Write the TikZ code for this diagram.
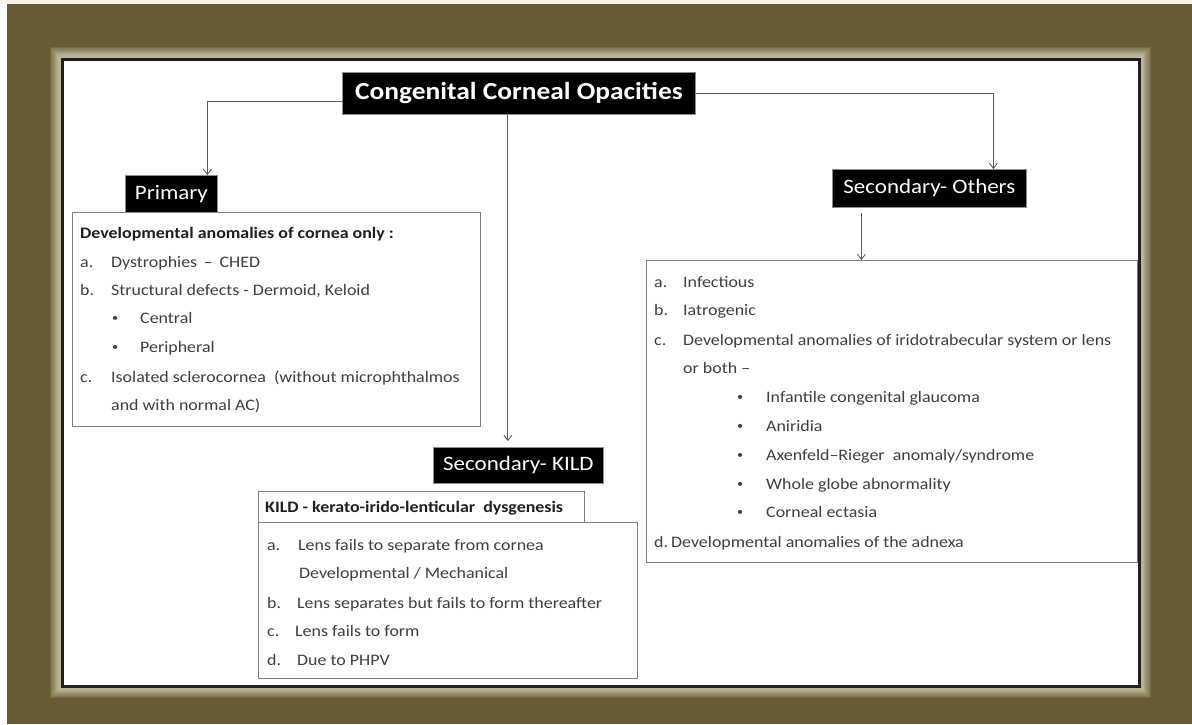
\documentclass[tikz,border=0pt]{standalone}
\usepackage{fontspec}
\setmainfont{Carlito}[FakeStretch=1.12]
\usetikzlibrary{arrows.meta}
\definecolor{frameolive}{RGB}{101,92,52}
\definecolor{glowcream}{RGB}{245,240,215}
\definecolor{stripcream}{RGB}{246,243,228}
\definecolor{bodygray}{RGB}{62,62,62}
\definecolor{headgray}{RGB}{30,30,30}
\definecolor{boxgray}{RGB}{125,125,125}
\newcommand{\bul}{\raisebox{0.15ex}{\fontsize{11}{11}\selectfont •}}
\begin{document}
\begin{tikzpicture}[x=1pt,y=-1pt,
  blackbox/.style={fill=black, draw=black!45, line width=0.8pt, text=white, inner sep=0pt, anchor=north west},
  cbox/.style={draw=boxgray, line width=1.3pt, fill=white, inner sep=0pt, anchor=north west},
  txt/.style={anchor=base west, inner sep=0pt, text=bodygray, font=\fontsize{16}{19}\selectfont},
  hdr/.style={anchor=base west, inner sep=0pt, text=headgray, font=\fontsize{16}{19}\selectfont\bfseries},
  conn/.style={draw=black!65, line width=0.9pt, -{Straight Barb[length=5pt,width=8pt]}}]
\useasboundingbox (0,0) rectangle (1192,724);
% background frame
\fill[white] (0,0) rectangle (1192,724);
\fill[stripcream] (0,0) rectangle (1192,4);
\fill[frameolive] (7,4) rectangle (1192,724);
\foreach \i in {1,...,10}
  \fill[glowcream, opacity=0.11] ({62-\i*1.2},{59-\i*1.2}) rectangle ({1139+\i*1.2},{686+\i*1.2});
\draw[line width=3pt, draw=black!88, fill=white] (62,59) rectangle (1139,686);

% content boxes
\node[cbox, minimum width=408, minimum height=214] (pbox) at (72,212) {};
\node[cbox, minimum width=491, minimum height=302] (obox) at (646,260) {};
\node[cbox, minimum width=379, minimum height=156] (kbox) at (258,522) {};
\node[cbox, minimum width=326, minimum height=31] (khead) at (258,491) {};

% black heading boxes
\node[blackbox, minimum width=353, minimum height=42, font=\fontsize{24.5}{28}\selectfont\bfseries] (title) at (342,72) {Congenital Corneal Opacities};
\node[blackbox, minimum width=92, minimum height=37, font=\fontsize{20.5}{24}\selectfont] (prim) at (125,175) {Primary};
\node[blackbox, minimum width=194, minimum height=38, font=\fontsize{20.5}{24}\selectfont] (oth) at (832,169) {Secondary- Others};
\node[blackbox, minimum width=170, minimum height=36, font=\fontsize{20.5}{24}\selectfont] (kild) at (433,447) {Secondary- KILD};

% connectors
\draw[conn] ([yshift=-8pt]title.west) -| ([xshift=36pt]prim.north);
\draw[conn] (title.east) -| ([xshift=64pt]oth.north);
\draw[conn, shorten >=6pt] ([xshift=-11pt]title.south) -- ([xshift=-11pt]title.south |- kild.north);
\draw[conn, shorten <=5pt] ([xshift=-68pt]oth.south) -- ([xshift=-68pt]oth.south |- obox.north);

% Primary text
\node[hdr] (p0) at (80,238) {Developmental anomalies of cornea only :};
\node[txt] (p1) at (80,267) {\makebox[31pt][l]{a.}Dystrophies \,–\, CHED};
\node[txt] (p2) at (80,295) {\makebox[31pt][l]{b.}Structural defects - Dermoid, Keloid};
\node[txt] (p3) at (112,323) {\makebox[28pt][l]{\bul}Central};
\node[txt] (p4) at (112,352) {\makebox[28pt][l]{\bul}Peripheral};
\node[txt] (p5) at (80,382) {\makebox[31pt][l]{c.}Isolated sclerocornea \ (without microphthalmos};
\node[txt] (p6) at (111,410) {and with normal AC)};

% Others text
\node[txt] (o1) at (654,287) {\makebox[29pt][l]{a.}Infectious};
\node[txt] (o2) at (654,315) {\makebox[29pt][l]{b.}Iatrogenic};
\node[txt] (o3) at (654,345) {\makebox[29pt][l]{c.}Developmental anomalies of iridotrabecular system or lens};
\node[txt] (o4) at (683,373) {or both –};
\node[txt] (o5) at (737,402) {\makebox[29pt][l]{\bul}Infantile congenital glaucoma};
\node[txt] (o6) at (737,431) {\makebox[29pt][l]{\bul}Aniridia};
\node[txt] (o7) at (737,460) {\makebox[29pt][l]{\bul}Axenfeld–Rieger \ anomaly/syndrome};
\node[txt] (o8) at (737,489) {\makebox[29pt][l]{\bul}Whole globe abnormality};
\node[txt] (o9) at (737,517) {\makebox[29pt][l]{\bul}Corneal ectasia};
\node[txt] (o10) at (654,547) {\makebox[17pt][l]{d.}Developmental anomalies of the adnexa};

% KILD text
\node[hdr] (k0) at (265,512) {KILD - kerato-irido-lenticular \ dysgenesis};
\node[txt] (k1) at (267,550) {\makebox[31pt][l]{a.}Lens fails to separate from cornea};
\node[txt] (k2) at (299,578) {Developmental / Mechanical};
\node[txt] (k3) at (267,608) {\makebox[30pt][l]{b.}Lens separates but fails to form thereafter};
\node[txt] (k4) at (267,636) {\makebox[28pt][l]{c.}Lens fails to form};
\node[txt] (k5) at (267,665) {\makebox[30pt][l]{d.}Due to PHPV};
\end{tikzpicture}
\end{document}
